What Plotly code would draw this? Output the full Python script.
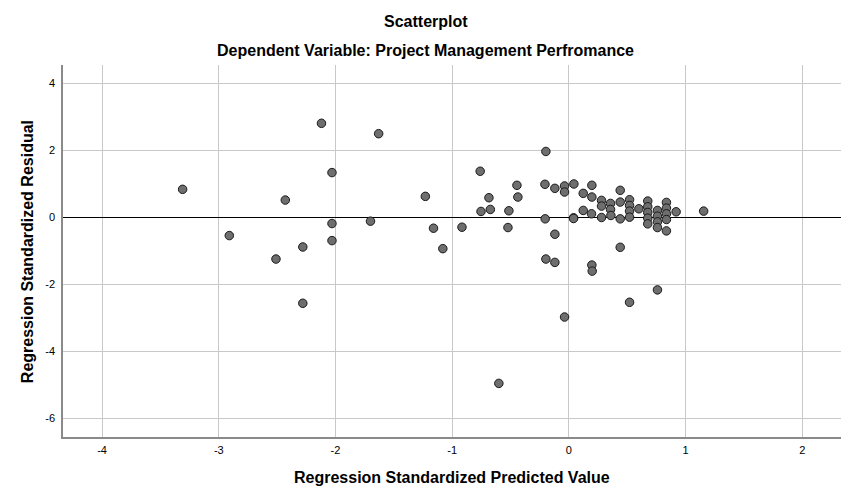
import plotly.graph_objects as go

# Regression standardized predicted values (x) and residuals (y)
pred = [-3.31, -2.91, -2.51, -2.43, -2.28, -2.28, -2.12, -2.03, -2.03, -2.03,
        -1.70, -1.63, -1.23, -1.16, -1.08, -0.916, -0.76, -0.685, -0.753, -0.673,
        -0.522, -0.514, -0.445, -0.437, -0.60, -0.197, -0.205, -0.203, -0.197, -0.12,
        -0.12, -0.12, -0.037, -0.037, -0.037, 0.043, 0.04, 0.04, 0.123, 0.123,
        0.197, 0.197, 0.194, 0.197, 0.20, 0.28, 0.28, 0.28, 0.357, 0.357,
        0.36, 0.44, 0.44, 0.44, 0.44, 0.52, 0.52, 0.52, 0.52, 0.52,
        0.60, 0.676, 0.676, 0.676, 0.676, 0.676, 0.759, 0.759, 0.759, 0.759,
        0.759, 0.836, 0.836, 0.836, 0.836, 0.836, 0.919, 1.155]
resid = [0.84, -0.54, -1.24, 0.52, -0.88, -2.56, 2.81, 1.34, -0.18, -0.69,
         -0.11, 2.50, 0.63, -0.32, -0.93, -0.29, 1.38, 0.59, 0.18, 0.24,
         -0.30, 0.20, 0.96, 0.61, -4.95, 1.97, 0.99, -0.04, -1.24, 0.87,
         -0.50, -1.34, 0.94, 0.76, -2.97, 1.00, -0.01, -0.03, 0.72, 0.21,
         0.96, 0.61, 0.11, -1.42, -1.60, 0.51, 0.34, 0.00, 0.42, 0.24,
         0.06, 0.81, 0.46, -0.04, -0.89, 0.53, 0.36, 0.19, 0.01, -2.53,
         0.26, 0.49, 0.32, 0.15, -0.02, -0.19, 0.21, 0.04, -0.13, -0.30,
         -2.16, 0.45, 0.28, 0.11, -0.06, -0.40, 0.17, 0.19]

x_ticks = [-4, -3, -2, -1, 0, 1, 2]
x_tick_labels = ["-4", "-3", "-2", "-1", "0", "1", "2"]
y_ticks = [-6, -4, -2, 0, 2, 4]
y_tick_labels = ["-6", "-4", "-2", "0", "2", "4"]

title_text = "Scatterplot"
subtitle_text = "Dependent Variable: Project Management Perfromance"
x_title = "Regression Standardized Predicted Value"
y_title = "Regression Standardized Residual"

FONT = "Liberation Sans, Arial, sans-serif"

# page has an 8px body margin; figure is sized to fit the window
W, H = 843, 493
PL, PT, PR, PB = 62.7 - 8, 65 - 8, 840.7 - 8, 437.3 - 8   # plot box in figure px
PW, PH = PR - PL, PB - PT


def px_x(px):
    return (px - 8 - PL) / PW


def px_y(py):
    return (PB - (py - 8)) / PH


fig = go.Figure()
fig.add_trace(go.Scatter(
    x=pred, y=resid, mode="markers",
    marker=dict(size=8.5, color="#6e6e6e", line=dict(color="#1a1a1a", width=1)),
    showlegend=False, hoverinfo="x+y",
))

fig.update_layout(
    width=W, height=H,
    margin=dict(l=PL, r=W - PR, t=PT, b=H - PB, autoexpand=False),
    paper_bgcolor="white", plot_bgcolor="white",
    font=dict(family=FONT, color="#000000"),
    title=dict(text="<b>%s</b>" % title_text, x=px_x(425.5), xref="paper", xanchor="center",
               y=1 - (21 - 8) / H, yref="container", yanchor="middle",
               font=dict(size=16, family=FONT, color="#000000")),
    annotations=[
        dict(text="<b>%s</b>" % subtitle_text, xref="paper", yref="paper",
             x=px_x(425.5), y=px_y(50), xanchor="center", yanchor="middle",
             showarrow=False, font=dict(size=16, family=FONT, color="#000000")),
        dict(text="<b>%s</b>" % x_title, xref="paper", yref="paper",
             x=px_x(451.5), y=px_y(478), xanchor="center", yanchor="middle",
             showarrow=False, font=dict(size=16, family=FONT, color="#000000")),
        dict(text="<b>%s</b>" % y_title, xref="paper", yref="paper",
             x=px_x(28), y=px_y(252), xanchor="center", yanchor="middle",
             textangle=-90, showarrow=False,
             font=dict(size=16, family=FONT, color="#000000")),
    ],
)

fig.update_xaxes(
    range=[-4.335, 2.332], tickvals=x_ticks, ticktext=x_tick_labels,
    showgrid=True, gridcolor="#c8c8c8", gridwidth=1,
    zeroline=False, showline=True, linecolor="#8a8a8a", linewidth=1.5,
    ticks="outside", ticklen=2, tickcolor="rgba(0,0,0,0)",
    tickfont=dict(size=11, family=FONT, color="#000000"),
)
fig.update_yaxes(
    range=[-6.55, 4.55], tickvals=y_ticks, ticktext=y_tick_labels,
    showgrid=True, gridcolor="#c8c8c8", gridwidth=1,
    zeroline=True, zerolinecolor="#000000", zerolinewidth=1,
    showline=True, linecolor="#8a8a8a", linewidth=1.5,
    ticks="outside", ticklen=4, tickcolor="rgba(0,0,0,0)",
    tickfont=dict(size=11, family=FONT, color="#000000"),
)

fig.write_html("out.html")
